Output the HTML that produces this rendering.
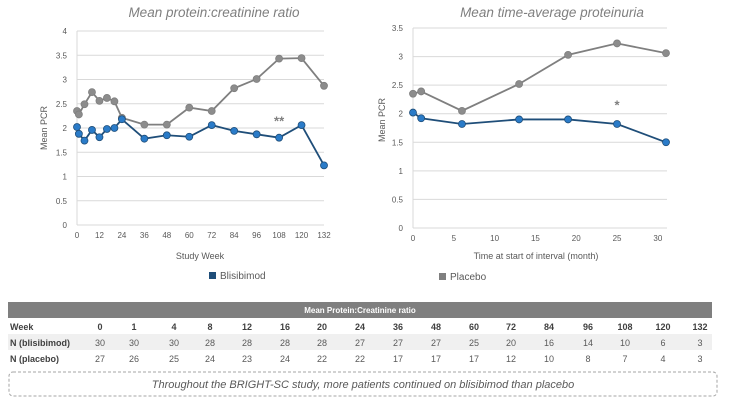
<!DOCTYPE html>
<html><head><meta charset="utf-8"><style>
body{margin:0;background:#fff;width:729px;height:403px;overflow:hidden;font-family:"Liberation Sans",sans-serif;}
svg{position:absolute;left:0;top:0}
</style></head><body>
<svg id="c" width="729" height="403" xmlns="http://www.w3.org/2000/svg"></svg>
<script>
const weeks=[0,1,4,8,12,16,20,24,36,48,60,72,84,96,108,120,132];
const pcrBlis=[2.02,1.88,1.74,1.96,1.81,1.98,2.0,2.18,1.78,1.85,1.82,2.06,1.94,1.87,1.80,2.06,1.23];
const pcrPlac=[2.35,2.28,2.49,2.74,2.56,2.62,2.55,2.21,2.07,2.07,2.42,2.35,2.82,3.01,3.43,3.44,2.87];
const leftYTicks=[0,0.5,1,1.5,2,2.5,3,3.5,4];
const leftXTicks=[0,12,24,36,48,60,72,84,96,108,120,132];
const months=[0,1,6,13,19,25,31];
const tapBlis=[2.02,1.92,1.82,1.90,1.90,1.82,1.50];
const tapPlac=[2.35,2.39,2.05,2.52,3.03,3.23,3.06];
const rightYTicks=[0,0.5,1,1.5,2,2.5,3,3.5];
const rightXTicks=[0,5,10,15,20,25,30];
const nBlis=[30,30,30,28,28,28,28,27,27,27,25,20,16,14,10,6,3];
const nPlac=[27,26,25,24,23,24,22,22,17,17,17,12,10,8,7,4,3];

const svg=document.getElementById('c');
const NS='http://www.w3.org/2000/svg';
function el(t,a,p){const e=document.createElementNS(NS,t);for(const k in a)e.setAttribute(k,a[k]);(p||svg).appendChild(e);return e;}
function txt(s,a,p){const e=el('text',a,p);e.textContent=s;return e;}

function chart(o){
  const g=el('g',{});
  
  
  const X=v=>o.x0+(v-o.xmin)/(o.xmax-o.xmin)*(o.x1-o.x0);
  const Y=v=>o.y0-(v-o.ymin)/(o.ymax-o.ymin)*(o.y0-o.y1);
  o.yt.forEach(v=>{
    const l=el('line',{x1:o.x0,x2:o.gx,y1:Y(v),y2:Y(v),stroke:'#d9d9d9','stroke-width':1},g);
    
    
    const t=txt(String(v),{x:o.x0-10,y:Y(v)+3,'font-size':8,fill:'#595959','text-anchor':'end'},g);
    
    
  });
  const ax=el('line',{x1:o.x0,x2:o.x0,y1:o.y1,y2:o.y0,stroke:'#d9d9d9'},g);
  
  
  o.xt.forEach(v=>{
    const t=txt(String(v),{x:X(v),y:o.y0+13,'font-size':8,fill:'#595959','text-anchor':'middle'},g);
    
    
  });
  [[o.pl,'#7f7f7f','#8c8c8c','placebo'],[o.bl,'#1f4e79','#2a7bc8','blisibimod']].forEach(([d,lc,fc,n])=>{
    const pts=o.xs.map((x,i)=>X(x)+','+Y(d[i])).join(' ');
    const pl=el('polyline',{points:pts,fill:'none',stroke:lc,'stroke-width':1.8},g);
    
    
    o.xs.forEach((x,i)=>{
      const c=el('circle',{cx:X(x),cy:Y(d[i]),r:3.5,fill:fc,stroke:lc,'stroke-width':0.8},g);
      
      
    });
  });
  const st=txt(o.star,{x:X(o.starX),y:Y(o.starY)+7,'font-size':13,'font-weight':'bold',fill:'#7f7f7f','text-anchor':'middle'},g);
  
  
  const ti=txt(o.title,{x:o.tx,y:17,'font-size':13.5,fill:'#7f7f7f','text-anchor':'middle','font-style':'italic'},g);
  
  
  const yt=txt('Mean PCR',{x:0,y:0,'font-size':9,fill:'#595959','text-anchor':'middle',transform:`translate(${o.ytx},${o.yty}) rotate(-90)`},g);
  
  
  const xt=txt(o.xtitle,{x:o.xtx,y:259,'font-size':9,fill:'#595959','text-anchor':'middle'},g);
  
  
}
chart({name:'pcr-chart',x0:77,x1:324,gx:324,xmin:0,xmax:132,y0:225,y1:31,ymin:0,ymax:4,yt:leftYTicks,xt:leftXTicks,xs:weeks,bl:pcrBlis,pl:pcrPlac,star:'**',starX:108,starY:2.2,title:'Mean protein:creatinine ratio',tx:214,ytx:47,yty:128,xtitle:'Study Week',xtx:200});
chart({name:'proteinuria-chart',x0:413,x1:666,gx:667,xmin:0,xmax:31,y0:228,y1:28,ymin:0,ymax:3.5,yt:rightYTicks,xt:rightXTicks,xs:months,bl:tapBlis,pl:tapPlac,star:'*',starX:25,starY:2.2,title:'Mean time-average proteinuria',tx:552,ytx:385,yty:120,xtitle:'Time at start of interval (month)',xtx:536});

let r=el('rect',{x:209,y:272,width:7,height:7,fill:'#1f4e79'});


let t=txt('Blisibimod',{x:220,y:279,'font-size':10,fill:'#595959'});


r=el('rect',{x:439,y:273,width:7,height:7,fill:'#7f7f7f'});


t=txt('Placebo',{x:450,y:280,'font-size':10,fill:'#595959'});



const tg=el('g',{});


el('rect',{x:8,y:302,width:704,height:16,fill:'#7f7f7f'},tg);
txt('Mean Protein:Creatinine ratio',{x:360,y:313,'font-size':8,'font-weight':'bold',fill:'#fff','text-anchor':'middle'},tg);
el('rect',{x:8,y:334,width:704,height:16,fill:'#f0f0f0'},tg);
const colX=[100,134,174,210,247,285,322,360,398,436,474,511,549,588,625,663,700];
const rows=[['Week',weeks,330,true],['N (blisibimod)',nBlis,346,false],['N (placebo)',nPlac,362,false]];
rows.forEach(([lab,vals,y,b])=>{
  const l=txt(lab,{x:10,y:y,'font-size':9,'font-weight':'bold',fill:'#404040'},tg);
  
  
  vals.forEach((v,i)=>{
    const c=txt(String(v),{x:colX[i],y:y,'font-size':9,'font-weight':b?'bold':'normal',fill:b?'#404040':'#595959','text-anchor':'middle'},tg);
    
    
  });
});
const bx=el('rect',{x:9,y:372,width:708,height:24,rx:4,fill:'none',stroke:'#a6a6a6','stroke-dasharray':'3,2'});


const nt=txt('Throughout the BRIGHT-SC study, more patients continued on blisibimod than placebo',{x:363,y:388,'font-size':11,'font-style':'italic',fill:'#595959','text-anchor':'middle'});


</script>
</body></html>
